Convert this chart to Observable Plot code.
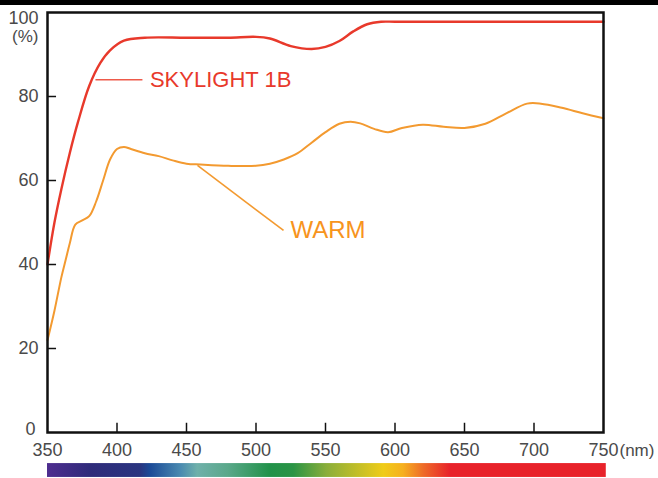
<!DOCTYPE html>
<html>
<head>
<meta charset="utf-8">
<script src="https://cdn.jsdelivr.net/npm/d3@7"></script>
<script src="https://cdn.jsdelivr.net/npm/@observablehq/plot@0.6"></script>
<style>
  html, body { margin: 0; padding: 0; background: #fff; }
  #topbar { height: 5px; background: #000; width: 658px; }
  #chart svg { display: block; }
</style>
</head>
<body>
<div id="topbar"></div>
<div id="chart"></div>
<script>
// ---- data ----
const skylightNm = [350, 355, 360, 366, 372, 380, 388, 395, 405, 420, 450, 480, 500, 510, 525, 540, 550, 560, 570, 580, 590, 600, 650, 700, 750];
const skylightVal = [40, 50, 58, 66.5, 74, 82.5, 88, 91, 93.3, 94, 94, 94, 94.2, 93.8, 92, 91.3, 91.8, 93.2, 95.5, 97.2, 97.8, 97.8, 97.8, 97.8, 97.8];

const warmNm = [350, 355, 360, 363, 366, 370, 375, 380, 385, 390, 395, 400, 405, 410, 420, 430, 440, 450, 460, 480, 500, 510, 520, 530, 540, 550, 560, 568, 575, 585, 595, 605, 620, 635, 650, 665, 680, 695, 705, 720, 735, 750];
const warmVal = [22, 29, 37, 41, 45, 49.5, 50.5, 51.5, 55, 60, 65, 67.5, 68, 67.5, 66.5, 65.8, 64.8, 64, 63.8, 63.5, 63.5, 64, 65, 66.5, 69, 71.5, 73.5, 74, 73.6, 72.3, 71.5, 72.5, 73.3, 72.8, 72.5, 73.5, 76, 78.3, 78.3, 77.3, 76, 74.8];

const xTicks = [350, 400, 450, 500, 550, 600, 650, 700, 750];
const xInnerTicks = [400, 450, 500, 550, 600, 650, 700];
const yTicksMid = [20, 40, 60, 80];
const yTickTop = 100;
const yTickBottom = 0;
const yInnerTicks = [20, 40, 60, 80];

const seriesNames = ["SKYLIGHT 1B", "WARM"];

// visible spectrum strip under the axis (wavelength -> colour)
const spectrumNm = [350, 381, 417, 424, 446, 458, 480, 510, 527, 551, 592, 606, 621, 640, 752];
const spectrumColor = ["#4e2d8f", "#2f2b7a", "#2a3580", "#1b4a97", "#4a8ab0", "#6fb0aa", "#5aa88a", "#22924a", "#2a9445", "#8aae3a", "#f0cc18", "#f6b01e", "#ee6a28", "#e8222a", "#e8222a"];

// ---- tables built from arrays ----
const skylight = skylightNm.map((x, i) => ({x, y: skylightVal[i]}));
const warm = warmNm.map((x, i) => ({x, y: warmVal[i]}));

const RED = "#e8392b";
const ORANGE = "#f39a30";
const FONT = "'Liberation Sans', Arial, sans-serif";
const GRAY = "#4a4a4a";

const chart = Plot.plot({
  width: 658,
  height: 473,
  marginLeft: 47,
  marginRight: 55,
  marginTop: 7,
  marginBottom: 46,
  style: {fontFamily: FONT, background: "#fff"},
  x: {domain: [350, 750], axis: null},
  y: {domain: [0, 100], axis: null},
  marks: [
    // spectrum strip
    Plot.rect([{x1: spectrumNm[0], x2: spectrumNm[spectrumNm.length - 1], y1: -7.4, y2: -10.7}],
      {x1: "x1", x2: "x2", y1: "y1", y2: "y2", fill: "url(#spec)"}),
    // curves
    Plot.line(warm, {x: "x", y: "y", stroke: ORANGE, strokeWidth: 2, curve: "catmull-rom"}),
    Plot.line(skylight, {x: "x", y: "y", stroke: RED, strokeWidth: 2.4, curve: "catmull-rom"}),
    // leader lines
    Plot.link([{x1: 384.5, y1: 84, x2: 418.3, y2: 84}],
      {x1: "x1", y1: "y1", x2: "x2", y2: "y2", stroke: "#ee5a4a", strokeWidth: 1.6}),
    Plot.link([{x1: 457.9, y1: 63.6, x2: 519.8, y2: 48.1}],
      {x1: "x1", y1: "y1", x2: "x2", y2: "y2", stroke: ORANGE, strokeWidth: 1.6}),
    // series labels
    Plot.text([seriesNames[0]], {x: 423.7, y: 84, text: d => d, textAnchor: "start", fill: RED, fontSize: 22}),
    Plot.text([seriesNames[1]], {x: 524.8, y: 48.1, text: d => d, textAnchor: "start", fill: "#f7941d", fontSize: 24}),
    // inner ticks
    Plot.ruleX(xInnerTicks, {x: d => d, y1: 0, y2: 2.2, stroke: "#111", strokeWidth: 1.5}),
    Plot.ruleY(yInnerTicks, {y: d => d, x1: 350, x2: 356.5, stroke: "#111", strokeWidth: 1.5}),
    // frame
    Plot.frame({stroke: "#111", strokeWidth: 2.5}),
    // tick labels
    Plot.text(yTicksMid, {x: 350, y: d => d, text: d => String(d), dx: -9, textAnchor: "end", fill: GRAY, fontSize: 18}),
    Plot.text([yTickTop], {x: 350, y: d => d, text: d => String(d), dx: -9, dy: 6, textAnchor: "end", fill: GRAY, fontSize: 18}),
    Plot.text([yTickBottom], {x: 350, y: d => d, text: d => String(d), dx: -12, dy: -3, textAnchor: "end", fill: GRAY, fontSize: 18}),
    Plot.text(["(%)"], {x: 350, y: 100, text: d => d, dx: -9, dy: 24, textAnchor: "end", fill: GRAY, fontSize: 17}),
    Plot.text(xTicks, {x: d => d, y: 0, text: d => String(d), dy: 18, fill: GRAY, fontSize: 18}),
    Plot.text(["(nm)"], {x: 750, y: 0, text: d => d, dx: 16, dy: 18, textAnchor: "start", fill: GRAY, fontSize: 17})
  ]
});

// gradient definition for the spectrum strip, from the arrays above
const lo = spectrumNm[0], hi = spectrumNm[spectrumNm.length - 1];
const grad = d3.select(chart).insert("defs", ":first-child")
  .append("linearGradient").attr("id", "spec")
  .attr("x1", "0%").attr("x2", "100%").attr("y1", "0%").attr("y2", "0%");
spectrumNm.forEach((nm, i) => {
  grad.append("stop")
    .attr("offset", ((nm - lo) / (hi - lo) * 100) + "%")
    .attr("stop-color", spectrumColor[i]);
});

document.getElementById("chart").appendChild(chart);
</script>
</body>
</html>
